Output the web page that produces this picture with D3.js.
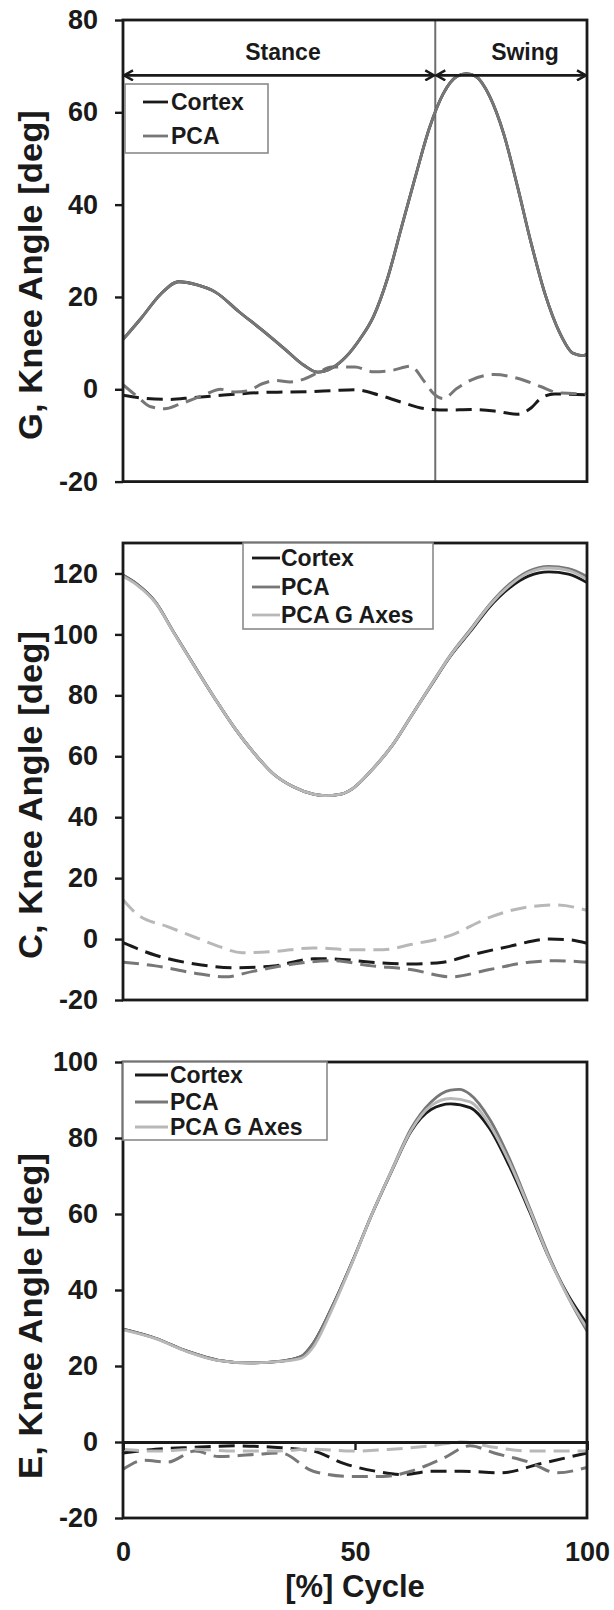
<!DOCTYPE html>
<html>
<head>
<meta charset="utf-8">
<script src="https://cdn.jsdelivr.net/npm/d3@7"></script>
<style>
  body { margin: 0; background: #fff; }
  text { font-family: "Liberation Sans", Arial, sans-serif; font-weight: bold; fill: #1a1a1a; }
</style>
</head>
<body>
<div id="chart"></div>
<script>
// ---- data: [% cycle, knee angle deg] ----
var seriesNames = ["Cortex", "PCA", "PCA G Axes"];
var cycleTicks = [0, 50, 100];
var gTicks = [-20, 0, 20, 40, 60, 80];
var cTicks = [-20, 0, 20, 40, 60, 80, 100, 120];
var eTicks = [-20, 0, 20, 40, 60, 80, 100];
var phaseNames = ["Stance", "Swing"];
var phaseSplit = 67.3;   // toe off, % cycle
var phaseLevel = 68;     // height of the phase arrows, deg

// G panel (flexion solid, other rotation dashed)
var gPcaSolid = [[0,10.8],[4,15.5],[8,20.5],[12,23.3],[16,22.6],[20,21],[25,16.8],[30,12.8],[35,8.6],[39,5.2],[42,3.7],[45,4.6],[48,7],[51,10.8],[54,15.8],[57,24],[60,35],[63,46],[66,56.5],[69,64],[72,67.8],[74,68.4],[76,67.8],[79,63.5],[82,55.5],[85,44],[88,31.5],[91,20.5],[94,12.5],[97,7.8],[99,7.3],[100,7.6]];
var gCortexSolid = gPcaSolid; // the two curves sit on top of each other
var gCortexDash = [[0,-1.3],[5,-2],[10,-2.2],[15,-1.8],[20,-1.4],[25,-1.0],[30,-0.7],[35,-0.6],[40,-0.5],[45,-0.3],[50,-0.1],[55,-1.2],[60,-2.8],[65,-4.2],[70,-4.5],[75,-4.4],[80,-4.7],[85,-5.4],[88,-4],[90,-2],[93,-1],[100,-1.2]];
var gPcaDash = [[0,1],[3,-1.5],[6,-3.8],[9,-4.2],[12,-3.3],[15,-2.2],[18,-1],[21,0],[24,-0.6],[27,-0.3],[30,1.2],[33,1.9],[36,1.6],[39,2.2],[42,3.6],[45,4.8],[50,4.8],[54,3.8],[58,4.1],[62,5],[65,1.6],[67,-1],[69,-2],[72,0.2],[75,2],[80,3.2],[85,2.4],[90,0.6],[94,-0.8],[100,-1]];

// C panel
var cCortexSolid = [[0,119.4],[3,116.5],[7,110.6],[11,100.5],[15.5,89.4],[20,78.5],[24,69.4],[28,61.5],[32.5,54.1],[36.7,50],[41,47.6],[43.5,47.1],[47,47.6],[49.5,49.4],[53.5,55.3],[58,63.5],[62,72.9],[66.5,83.5],[70.6,92.9],[75,101.2],[79,109],[83.3,115.3],[87.5,119.2],[91.8,120.5],[96,119.8],[100,117]];
var cPcaSolid = [[0,119.4],[3,116.5],[7,110.6],[11,100.5],[15.5,89.4],[20,78.5],[24,69.4],[28,61.5],[32.5,54.1],[36.7,50],[41,47.6],[43.5,47.1],[47,47.6],[49.5,49.4],[53.5,55.3],[58,63.5],[62,72.9],[66.5,83.7],[70.6,93.3],[75,101.9],[79,109.8],[83.3,116.5],[87.5,120.8],[91.8,122.3],[96,121.6],[100,119]];
var cGaxSolid = [[0,119],[3,116.2],[7,110.4],[11,100.4],[15.5,89.3],[20,78.5],[24,69.4],[28,61.5],[32.5,54.1],[36.7,50],[41,47.6],[43.5,47.1],[47,47.6],[49.5,49.4],[53.5,55.3],[58,63.5],[62,72.9],[66.5,83.6],[70.6,93.1],[75,101.6],[79,109.5],[83.3,116],[87.5,120.3],[91.8,121.8],[96,121],[100,118]];
var cCortexDash = [[0,-1.2],[7,-5.3],[15.5,-8.2],[24,-9.4],[32.5,-8.8],[41,-6.5],[45,-6.5],[53.6,-7.6],[62,-8.2],[69,-7.6],[74.8,-5.3],[83.3,-2.4],[91.8,0],[96,-0.2],[100,-1.4]];
var cPcaDash = [[0,-7.6],[7,-8.8],[15.5,-11.2],[22,-12.4],[28,-10.6],[36.7,-8.2],[45,-7.1],[53.6,-8.8],[62,-10],[70.6,-12.4],[79,-10],[87.5,-7.6],[93.5,-7.1],[100,-7.6]];
var cGaxDash = [[0,12.9],[3,8.2],[9.6,4.1],[15.5,0.6],[20.6,-2.4],[25.7,-4.5],[32.5,-4.1],[41,-2.9],[49.4,-3.5],[56,-3.5],[62,-1.8],[70.6,1.2],[79,7.1],[87.5,10.6],[93.5,11.2],[100,9.4]];

// E panel
var eCortexSolid = [[0,29.7],[7,27.3],[13.8,23.9],[20.6,21.5],[27.4,20.8],[34.2,21.3],[38.4,22.5],[40.9,25.8],[45.2,35.9],[49.4,47.4],[53.6,59.8],[57.9,71.3],[62.1,81.8],[66.4,87.5],[70.6,89],[74.8,88],[79,82.5],[83.3,72.5],[87.5,61],[91.8,48.5],[96,38.5],[100,31.1]];
var ePcaSolid = [[0,29.7],[7,27.3],[13.8,23.9],[20.6,21.5],[27.4,20.8],[34.2,21.3],[38.4,22.5],[40.9,25.8],[45.2,35.9],[49.4,47.4],[53.6,59.8],[57.9,71.5],[62.1,82.5],[66.4,89.5],[70.6,92.6],[72.5,92.8],[74.8,91.5],[79,85],[83.3,74.5],[87.5,62],[91.8,49],[96,38],[100,29.2]];
var eGaxSolid = [[0,29.5],[7,27.2],[13.8,23.8],[20.6,21.4],[27.4,20.8],[34.2,21.2],[38.4,22],[40.9,24.8],[45.2,35.3],[49.4,47.2],[53.6,59.8],[57.9,71.4],[62.1,82],[66.4,88.5],[70.6,90.4],[74.8,89.5],[79,83.5],[83.3,73.5],[87.5,61.5],[91.8,48.5],[96,38],[100,30]];
var eCortexDash = [[0,-2.9],[7,-1.9],[15.5,-1.4],[24,-1],[32.5,-1.4],[41,-2.4],[47.7,-5.7],[54.5,-7.7],[60.4,-8.6],[66.4,-7.7],[73,-7.7],[81.6,-8.1],[90,-5.7],[100,-2.9]];
var ePcaDash = [[0,-7.2],[4.5,-4.8],[9.6,-5.3],[15.5,-2.4],[20.6,-3.8],[28.2,-3.3],[34,-2.9],[41,-7.7],[49.4,-9.1],[56,-9.1],[62,-7.7],[69,-4.3],[74.8,-1],[80,-2.9],[87.5,-5.3],[93.5,-8.1],[100,-6.7]];
var eGaxDash = [[0,-1.9],[7,-2.4],[15.5,-1.9],[24,-2.4],[32.5,-2.4],[41,-1.9],[49.4,-2.4],[58,-1.9],[66.4,-1],[73,0],[80,-1.4],[87.5,-2.4],[100,-2.4]];

// ---- layout ----
var width = 614, height = 1610,
	left = 123, right = 587,
	colors = ["#1a1a1a", "#777777", "#b8b8b8"],
	dash = "16,8";

var panels = [
	{ id: "g", title: "G, Knee Angle [deg]", top: 20, bottom: 481.6, domain: [-20, 80], ticks: gTicks, titleY: 275,
	  solid: [gCortexSolid, gPcaSolid], dashed: [gCortexDash, gPcaDash],
	  legend: { x0: 125, x1: 268, y0: 84, y1: 153, rows: [102, 136], lx0: 143, lx1: 168, tx: 171 } },
	{ id: "c", title: "C, Knee Angle [deg]", top: 543, bottom: 1000, domain: [-20, 130], ticks: cTicks, titleY: 795,
	  solid: [cCortexSolid, cPcaSolid, cGaxSolid], dashed: [cCortexDash, cPcaDash, cGaxDash],
	  legend: { x0: 243, x1: 433, y0: 543, y1: 629, rows: [558, 587, 615], lx0: 252, lx1: 280, tx: 281 } },
	{ id: "e", title: "E, Knee Angle [deg]", top: 1062, bottom: 1518, domain: [-20, 100], ticks: eTicks, titleY: 1316,
	  solid: [eCortexSolid, ePcaSolid, eGaxSolid], dashed: [eCortexDash, ePcaDash, eGaxDash],
	  legend: { x0: 123, x1: 327, y0: 1062, y1: 1140, rows: [1075, 1102, 1127], lx0: 135, lx1: 168, tx: 170 } }
];

var svg = d3.select("#chart").append("svg")
	.attr("width", width)
	.attr("height", height);

var defs = svg.append("defs");
defs.append("marker")
	.attr("id", "arrow")
	.attr("viewBox", "0 0 12 12")
	.attr("refX", 11).attr("refY", 6)
	.attr("markerWidth", 12).attr("markerHeight", 12)
	.attr("markerUnits", "userSpaceOnUse")
	.attr("orient", "auto-start-reverse")
	.append("path")
	.attr("d", "M2,1 L11,6 L2,11")
	.attr("fill", "none")
	.attr("stroke", "#1a1a1a")
	.attr("stroke-width", 2.4);

var x = d3.scaleLinear().domain([0, 100]).range([left, right]);
var fmt = function (d) { return String(d); }; // plain hyphen for negatives, like the original

panels.forEach(function (p) {
	var y = d3.scaleLinear().domain(p.domain).range([p.bottom, p.top]);
	var g = svg.append("g").attr("class", "panel-" + p.id);

	defs.append("clipPath").attr("id", "clip-" + p.id)
		.append("rect")
		.attr("x", left).attr("y", p.top)
		.attr("width", right - left).attr("height", p.bottom - p.top);

	var line = d3.line()
		.x(function (d) { return x(d[0]); })
		.y(function (d) { return y(d[1]); })
		.curve(d3.curveMonotoneX);

	var plot = g.append("g").attr("clip-path", "url(#clip-" + p.id + ")");

	// phase marker (G only)
	if (p.id === "g") {
		plot.append("line")
			.attr("x1", x(phaseSplit)).attr("x2", x(phaseSplit))
			.attr("y1", p.top).attr("y2", p.bottom)
			.attr("stroke", "#6e6e6e").attr("stroke-width", 2);
	}

	p.dashed.forEach(function (s, i) {
		plot.append("path")
			.attr("d", line(s))
			.attr("fill", "none")
			.attr("stroke", colors[i])
			.attr("stroke-width", 3)
			.attr("stroke-dasharray", dash);
	});
	p.solid.forEach(function (s, i) {
		plot.append("path")
			.attr("d", line(s))
			.attr("fill", "none")
			.attr("stroke", colors[i])
			.attr("stroke-width", 2.8);
	});

	// y axis
	var yAxis = g.append("g")
		.attr("transform", "translate(" + left + ",0)")
		.call(d3.axisLeft(y).tickValues(p.ticks).tickSize(8).tickPadding(17).tickFormat(fmt));
	yAxis.select(".domain").remove();
	yAxis.selectAll(".tick line").attr("stroke", "#1a1a1a").attr("stroke-width", 2.4);
	yAxis.selectAll("text").style("font-size", "27px").attr("fill", "#1a1a1a");

	// frame
	g.append("rect")
		.attr("x", left).attr("y", p.top)
		.attr("width", right - left).attr("height", p.bottom - p.top)
		.attr("fill", "none")
		.attr("stroke", "#1a1a1a")
		.attr("stroke-width", 2.8);

	// y title
	g.append("text")
		.attr("transform", "translate(42," + p.titleY + ") rotate(-90) scale(1.05,1)")
		.attr("text-anchor", "middle")
		.style("font-size", "33px")
		.text(p.title);

	// legend
	var L = p.legend;
	var leg = g.append("g").attr("class", "legend");
	leg.append("rect")
		.attr("x", L.x0).attr("y", L.y0)
		.attr("width", L.x1 - L.x0).attr("height", L.y1 - L.y0)
		.attr("fill", "#fff")
		.attr("stroke", "#8a8a8a")
		.attr("stroke-width", 1.6);
	L.rows.forEach(function (ry, i) {
		leg.append("line")
			.attr("x1", L.lx0).attr("x2", L.lx1)
			.attr("y1", ry).attr("y2", ry)
			.attr("stroke", colors[i]).attr("stroke-width", 2.8);
		leg.append("text")
			.attr("x", L.tx).attr("y", ry)
			.attr("dy", "0.36em")
			.style("font-size", "23px")
			.text(seriesNames[i]);
	});

	if (p.id === "g") {
		var ay = y(phaseLevel);
		var spans = [[0, phaseSplit], [phaseSplit, 100]];
		spans.forEach(function (s, i) {
			g.append("line")
				.attr("x1", x(s[0]) + 1).attr("x2", x(s[1]) - 1)
				.attr("y1", ay).attr("y2", ay)
				.attr("stroke", "#1a1a1a").attr("stroke-width", 2.6)
				.attr("marker-start", "url(#arrow)")
				.attr("marker-end", "url(#arrow)");
			g.append("text")
				.attr("x", i === 0 ? 283 : 525)
				.attr("y", ay - 15)
				.attr("text-anchor", "middle")
				.style("font-size", "23px")
				.text(phaseNames[i]);
		});
	}

	if (p.id === "e") {
		// horizontal axis through zero
		var zAxis = g.append("g")
			.attr("transform", "translate(0," + y(0) + ")")
			.call(d3.axisBottom(x).tickValues(cycleTicks).tickSize(8).tickFormat(""));
		zAxis.select(".domain").attr("stroke", "#1a1a1a").attr("stroke-width", 2.8);
		zAxis.selectAll(".tick line").attr("stroke", "#1a1a1a").attr("stroke-width", 2.4);

		var xAxis = g.append("g")
			.attr("transform", "translate(0," + p.bottom + ")")
			.call(d3.axisBottom(x).tickValues(cycleTicks).tickSize(0).tickPadding(24).tickFormat(fmt));
		xAxis.select(".domain").remove();
		xAxis.selectAll("text").style("font-size", "27px").attr("fill", "#1a1a1a");

		g.append("text")
			.attr("x", x(50))
			.attr("y", 1597)
			.attr("text-anchor", "middle")
			.style("font-size", "31px")
			.text("[%] Cycle");
	}
});
</script>
</body>
</html>
